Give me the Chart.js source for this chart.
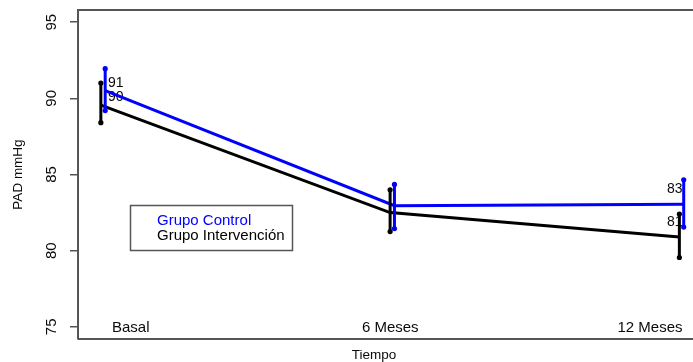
<!DOCTYPE html>
<html lang="es">
<head>
    <meta charset="UTF-8">
    <title>PAD mmHg por grupo</title>
    <script src="https://cdn.jsdelivr.net/npm/chart.js"></script>
    <style>
        body {
            margin: 0;
            background: #ffffff;
            overflow: hidden;
        }
        #grafico {
            display: block;
        }
    </style>
</head>
<body>
    <!-- el recuadro de R sigue fuera de la imagen por la derecha -->
    <canvas id="grafico" width="700" height="362"></canvas>
    <script>
        // Datos
        const categorias = ['Basal', '6 Meses', '12 Meses'];
        const controlMedia = [90.5, 82.95, 83.05];
        const controlInf = [89.2, 81.45, 81.55];
        const controlSup = [91.95, 84.35, 84.65];
        const intervMedia = [89.55, 82.5, 80.9];
        const intervInf = [88.4, 81.25, 79.55];
        const intervSup = [91.0, 84.0, 82.4];
        const controlEtiquetas = ['91', '', '83'];
        const intervEtiquetas = ['90', '', '81'];
        const ticksY = [75, 80, 85, 90, 95];

        const AZUL = '#0000ff';
        const NEGRO = '#000000';
        const GRIS = '#555555';
        const TEXTO = '#0a0a0a';
        const FUENTE = "'Liberation Sans', Arial, sans-serif";
        const desplaz = 0.0075; // separacion entre grupos

        function serieMedia(medias, d) {
            return medias.map((v, i) => ({ x: i + d, y: v }));
        }

        function barrasError(inf, sup, d, color, nombre) {
            return inf.map((v, i) => ({
                label: nombre + ' error ' + i,
                data: [{ x: i + d, y: v }, { x: i + d, y: sup[i] }],
                borderColor: color,
                backgroundColor: color,
                pointBackgroundColor: color,
                pointBorderWidth: 0,
                pointRadius: 2.6,
                borderWidth: 3
            }));
        }

        const datasets = [
            ...barrasError(controlInf, controlSup, desplaz, AZUL, 'Grupo Control'),
            ...barrasError(intervInf, intervSup, -desplaz, NEGRO, 'Grupo Intervención'),
            {
                label: 'Grupo Control',
                data: serieMedia(controlMedia, desplaz),
                borderColor: AZUL,
                borderWidth: 3,
                pointRadius: 0,
                etiquetas: controlEtiquetas
            },
            {
                label: 'Grupo Intervención',
                data: serieMedia(intervMedia, -desplaz),
                borderColor: NEGRO,
                borderWidth: 3,
                pointRadius: 0,
                etiquetas: intervEtiquetas
            }
        ];

        // Dibujo de textos, caja y leyenda al estilo R
        const estiloR = {
            id: 'estiloR',
            beforeDatasetsDraw(chart) {
                const ctx = chart.ctx;
                const x = chart.scales.x;
                const y = chart.scales.y;
                ctx.save();
                ctx.font = '14px ' + FUENTE;
                ctx.fillStyle = TEXTO;
                ctx.textBaseline = 'middle';
                chart.data.datasets.forEach(ds => {
                    if (!ds.etiquetas) return;
                    ds.etiquetas.forEach((txt, i) => {
                        if (!txt) return;
                        const px = x.getPixelForValue(i);
                        const py = y.getPixelForValue(ds.data[i].y);
                        if (i === 0) {
                            ctx.textAlign = 'left';
                            ctx.fillText(txt, px + 5, py - 8);
                        } else {
                            ctx.textAlign = 'right';
                            ctx.fillText(txt, px + 1, py - 15);
                        }
                    });
                });
                ctx.restore();
            },
            afterDraw(chart) {
                const ctx = chart.ctx;
                const area = chart.chartArea;
                const x = chart.scales.x;
                const y = chart.scales.y;
                ctx.save();

                // caja (arriba y abajo)
                ctx.strokeStyle = GRIS;
                ctx.lineWidth = 2;
                ctx.beginPath();
                ctx.moveTo(area.left, area.top);
                ctx.lineTo(chart.width, area.top);
                ctx.moveTo(area.left, area.bottom);
                ctx.lineTo(chart.width, area.bottom);
                ctx.stroke();

                // etiquetas del eje y, giradas
                ctx.fillStyle = TEXTO;
                ctx.font = '15px ' + FUENTE;
                ctx.textAlign = 'center';
                ctx.textBaseline = 'middle';
                y.ticks.forEach(t => {
                    ctx.save();
                    ctx.translate(area.left - 26, y.getPixelForValue(t.value));
                    ctx.rotate(-Math.PI / 2);
                    ctx.fillText(String(t.value), 0, 0);
                    ctx.restore();
                });

                // categorias dentro del grafico
                ctx.font = '15px ' + FUENTE;
                categorias.forEach((c, i) => {
                    const px = x.getPixelForValue(i);
                    if (i === 0) {
                        ctx.textAlign = 'left';
                        ctx.fillText(c, px + 9, area.bottom - 11);
                    } else if (i === categorias.length - 1) {
                        ctx.textAlign = 'right';
                        ctx.fillText(c, px + 1, area.bottom - 11);
                    } else {
                        ctx.textAlign = 'center';
                        ctx.fillText(c, px - 2, area.bottom - 11);
                    }
                });

                // titulo eje x
                ctx.font = '13.5px ' + FUENTE;
                ctx.textAlign = 'center';
                ctx.fillText('Tiempo', 374, area.bottom + 16);

                // leyenda
                ctx.strokeStyle = GRIS;
                ctx.lineWidth = 1.5;
                ctx.strokeRect(130.5, 205.5, 162, 45);
                ctx.font = '15px ' + FUENTE;
                ctx.textAlign = 'left';
                ctx.fillStyle = AZUL;
                ctx.fillText('Grupo Control', 157, 221);
                ctx.fillStyle = NEGRO;
                ctx.fillText('Grupo Intervención', 157, 236);

                ctx.restore();
            }
        };

        new Chart(document.getElementById('grafico'), {
            type: 'line',
            data: { datasets: datasets },
            options: {
                responsive: false,
                animation: false,
                layout: { padding: { left: 0, top: 10, right: 0, bottom: 23 } },
                plugins: {
                    legend: { display: false },
                    tooltip: { enabled: false }
                },
                scales: {
                    x: {
                        type: 'linear',
                        display: false,
                        min: -0.0865,
                        max: 2.05
                    },
                    y: {
                        type: 'linear',
                        min: 74.2,
                        max: 95.8,
                        afterBuildTicks(scale) {
                            scale.ticks = ticksY.map(v => ({ value: v }));
                        },
                        afterFit(scale) {
                            scale.width = 78;
                        },
                        ticks: { display: false },
                        grid: {
                            drawOnChartArea: false,
                            drawTicks: true,
                            tickLength: 8,
                            tickColor: GRIS,
                            lineWidth: 1.5
                        },
                        border: { display: true, color: GRIS, width: 2 },
                        title: {
                            display: true,
                            text: 'PAD mmHg',
                            color: TEXTO,
                            font: { family: FUENTE, size: 13.5 },
                            padding: { top: 10, bottom: 0 }
                        }
                    }
                }
            },
            plugins: [estiloR]
        });
    </script>
</body>
</html>
